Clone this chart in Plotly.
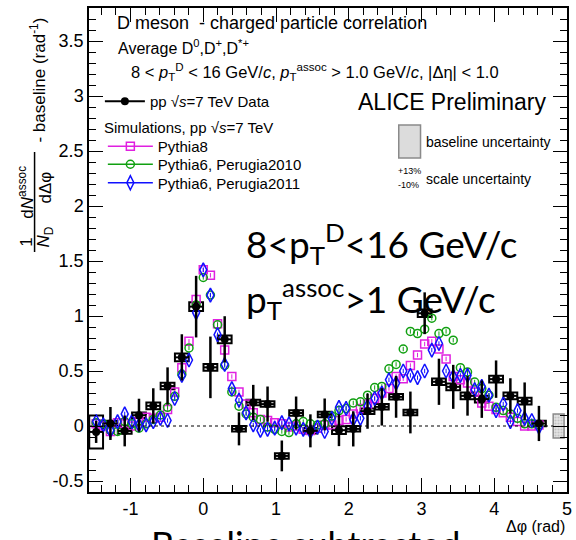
import numpy as np
import plotly.graph_objects as go

PI = np.pi
# ---- data: ALICE pp 7 TeV data (32 bins of pi/16) ----
data_y = [-0.054, 0.023, -0.045, 0.098, 0.183, 0.363, 0.624, 1.085, 0.533, 0.788,
          -0.026, 0.214, 0.199, -0.272, 0.118, -0.044, 0.105, -0.038, -0.026, 0.135,
          0.174, 0.265, 0.123, 1.025, 0.402, 0.356, 0.274, 0.244, 0.426, 0.274,
          0.226, 0.023]
data_stat = [0.10, 0.15, 0.14, 0.15, 0.16, 0.17, 0.21, 0.28, 0.28, 0.21,
             0.15, 0.16, 0.16, 0.14, 0.15, 0.15, 0.145, 0.145, 0.16, 0.16,
             0.17, 0.19, 0.19, 0.19, 0.21, 0.20, 0.18, 0.17, 0.17, 0.16,
             0.17, 0.16]
data_sys = [0.15, 0.025, 0.025, 0.025, 0.03, 0.03, 0.035, 0.04, 0.03, 0.035,
            0.025, 0.025, 0.025, 0.025, 0.025, 0.025, 0.025, 0.035, 0.025, 0.025,
            0.025, 0.025, 0.025, 0.035, 0.03, 0.03, 0.03, 0.03, 0.03, 0.03,
            0.03, 0.025]
data_x = [-PI / 2 + (k + 0.5) * PI / 16 for k in range(len(data_y))]

# ---- simulations (63 points, pi/32 spacing) ----
pythia8 = [0.02, 0.00, -0.05, 0.03, 0.02, 0.00, 0.04, 0.08, 0.07, 0.08,
           0.15, 0.31, 0.53, 0.77, 1.15, 1.42, 1.37, 0.93, 0.69, 0.45,
           0.31, 0.20, 0.12, 0.06, 0.05, 0.03, 0.02, -0.01, 0.00, -0.03,
           -0.04, -0.02, 0.01, 0.01, 0.05, 0.06, 0.11, 0.16, 0.20, 0.25,
           0.30, 0.34, 0.45, 0.43, 0.55, 0.645, 0.745, 0.77, 0.70, 0.61,
           0.45, 0.42, 0.39, 0.31, 0.21, 0.18, 0.15, 0.12, 0.08, 0.04,
           0.00, 0.00, 0.01]
perugia2010 = [0.03, 0.02, -0.04, -0.05, 0.04, 0.02, -0.02, 0.02, 0.06, 0.10,
               0.17, 0.27, 0.47, 0.71, 1.10, 1.35, 1.19, 0.92, 0.55, 0.31,
               0.18, 0.11, 0.08, 0.06, -0.01, -0.03, -0.05, -0.06, 0.02, 0.04,
               0.02, 0.01, 0.02, 0.09, 0.14, 0.16, 0.21, 0.22, 0.28, 0.35,
               0.36, 0.52, 0.56, 0.70, 0.86, 0.84, 0.88, 0.98, 0.84, 0.86,
               0.78, 0.53, 0.49, 0.40, 0.34, 0.28, 0.17, 0.14, 0.11, 0.07,
               0.02, 0.02, 0.01]
perugia2011 = [0.04, 0.01, -0.04, 0.04, 0.11, 0.04, 0.01, 0.01, 0.04, 0.07,
               0.05, 0.25, 0.46, 0.60, 1.03, 1.42, 1.19, 0.83, 0.56, 0.34,
               0.235, 0.12, 0.01, -0.04, -0.03, -0.02, 0.03, 0.02, -0.02, -0.03,
               -0.05, -0.01, -0.05, 0.07, 0.17, 0.16, 0.06, 0.07, 0.18, 0.25,
               0.30, 0.42, 0.39, 0.50, 0.46, 0.44, 0.50, 0.69, 0.75, 0.50,
               0.45, 0.46, 0.46, 0.33, 0.36, 0.28, 0.14, 0.20, 0.04, 0.14,
               0.07, 0.05, -0.01]
sim_x = [-PI / 2 + (j + 1) * PI / 32 for j in range(len(pythia8))]

# baseline uncertainty band (drawn at right edge)
baseline_unc = 0.11
baseline_x = [4.885]

x_ticks = [-1, 0, 1, 2, 3, 4, 5]
y_ticks = [-0.5, 0, 0.5, 1, 1.5, 2, 2.5, 3, 3.5]
y_ticktext = ["-0.5", "0", "0.5", "1", "1.5", "2", "2.5", "3", "3.5"]

X_RANGE = [-PI / 2, 5.0]
Y_RANGE = [-0.6, 3.8]

W, H = 576, 540
L, R, T, B = 89, 4, 8, 48
PW, PH = W - L - R, H - T - B


def px(xpix):
    return (xpix - L) / PW


def py(ypix):
    return (H - B - ypix) / PH


HELV = "Liberation Sans, Arial, sans-serif"
BIG = "Lato, sans-serif"

fig = go.Figure()

sims = [
    ("Pythia8", pythia8, "#e020e0", "square-open", 8, "legend2", 130),
    ("Pythia6, Perugia2010", perugia2010, "#10a010", "circle-open", 8, "legend3", 148),
    ("Pythia6, Perugia2011", perugia2011, "#1010ff", "diamond-tall-open", 10, "legend4", 166.5),
]
for name, ys, col, sym, sz, lg, ltop in sims:
    fig.add_trace(go.Scatter(
        x=sim_x, y=ys, mode="markers", showlegend=False,
        marker=dict(symbol=sym, size=sz, color=col, line=dict(width=1.5, color=col)),
        error_y=dict(type="constant", value=0.02, color=col, thickness=1, width=0),
    ))

# systematic boxes for data
fig.add_trace(go.Bar(
    x=data_x, y=[2 * s for s in data_sys], base=[v - s for v, s in zip(data_y, data_sys)],
    width=0.19, showlegend=False,
    marker=dict(color="rgba(0,0,0,0)", line=dict(color="black", width=2)),
))
# baseline uncertainty box
fig.add_trace(go.Bar(
    x=baseline_x, y=[2 * baseline_unc], base=[-baseline_unc], width=0.15,
    showlegend=False,
    marker=dict(color="#dddddd", line=dict(color="#8a8a8a", width=1.5),
                pattern=dict(shape=".", fgcolor="#a0a0a0", bgcolor="#e4e4e4", size=3, solidity=0.4)),
))
fig.add_trace(go.Scatter(
    x=data_x, y=data_y, mode="markers", showlegend=False,
    marker=dict(symbol="circle", size=8, color="black"),
    error_y=dict(type="data", array=data_stat, color="black", thickness=2.5, width=0),
    error_x=dict(type="constant", value=PI / 32, color="black", thickness=2, width=0),
))

# legend entries
fig.add_trace(go.Scatter(
    x=[None], y=[None], mode="lines+markers", name="pp &#8730;<i>s</i>=7 TeV Data",
    line=dict(color="black", width=2), marker=dict(symbol="circle", size=8, color="black"),
    legend="legend",
))
for name, ys, col, sym, sz, lg, ltop in sims:
    fig.add_trace(go.Scatter(
        x=[None], y=[None], mode="lines+markers", name=name,
        line=dict(color=col, width=1.5),
        marker=dict(symbol=sym, size=sz, color=col, line=dict(width=1.5, color=col)),
        legend=lg,
    ))

axis_common = dict(
    showline=True, linecolor="black", linewidth=1.5, mirror="allticks",
    ticks="inside", ticklen=14, tickwidth=1.2, tickcolor="black",
    showgrid=False, zeroline=False,
    tickfont=dict(family=HELV, size=18, color="black"),
)
fig.update_xaxes(range=X_RANGE, tickvals=x_ticks, ticktext=[str(v) for v in x_ticks],
                 minor=dict(dtick=0.2, ticks="inside", ticklen=7, tickcolor="black", tickwidth=1.2),
                 **axis_common)
fig.update_yaxes(range=Y_RANGE, tickvals=y_ticks, ticktext=y_ticktext,
                 minor=dict(dtick=0.1, ticks="inside", ticklen=7, tickcolor="black", tickwidth=1.2),
                 **axis_common)

shapes = [
    dict(type="line", xref="x", yref="y", x0=X_RANGE[0], x1=4.81, y0=0, y1=0,
         line=dict(color="black", width=1, dash="3px,3px")),
    # legend sample of baseline uncertainty
    dict(type="rect", xref="paper", yref="paper", x0=px(402), x1=px(424), y0=py(158), y1=py(125),
         fillcolor="#dcdcdc", line=dict(color="#8a8a8a", width=1.5)),
    # fraction bar of y title
    dict(type="line", xref="paper", yref="paper", x0=px(34), x1=px(34), y0=py(252), y1=py(152),
         line=dict(color="black", width=1.5)),
]

ann = []


def add_text(text, x, y, size, family=HELV, xanchor="left", yanchor="middle", angle=0):
    ann.append(dict(text=text, x=px(x), y=py(y), xref="paper", yref="paper",
                    xanchor=xanchor, yanchor=yanchor, showarrow=False, textangle=angle,
                    font=dict(family=family, size=size, color="black")))


add_text("D meson  - charged particle correlation", 115, 23, 18)
add_text("Average D<sup>0</sup>,D<sup>+</sup>,D<sup>*+</sup>", 116, 47, 16)
add_text("8 < <i>p</i><sub>T</sub><sup>D</sup> < 16 GeV/<i>c</i>, <i>p</i><sub>T</sub><sup>assoc</sup> "
         "> 1.0 GeV/<i>c</i>, |&#916;&#951;| < 1.0", 129, 72, 16.5)
add_text("ALICE Preliminary", 553, 102, 23, xanchor="right")
add_text("Simulations, pp &#8730;<i>s</i>=7 TeV", 102, 127, 15)
add_text("baseline uncertainty", 427, 142, 14)
add_text("+13%", 399, 171, 9)
add_text("-10%", 399, 185, 9)
add_text("scale uncertainty", 428, 179, 14)
# big overlay text
add_text("8<p<sub>T</sub><sup>D</sup><16 GeV/c", 246, 243, 37, family=BIG)
add_text("p<sub>T</sub><sup>assoc</sup>>1 GeV/c", 246, 298, 37, family=BIG)
add_text("Baseline subtracted", 150, 544, 36, family=BIG)
# x axis title
add_text("&#916;&#966; (rad)", 572, 526, 16, xanchor="right")
# y axis title pieces
add_text("1", 25, 242, 17, xanchor="center", angle=-90)
add_text("d<i>N</i><sup>assoc</sup>", 25, 192, 17, xanchor="center", angle=-90)
add_text("<i>N</i><sub>D</sub>", 45, 237, 17, xanchor="center", angle=-90)
add_text("d&#916;&#966;", 45, 187, 17, xanchor="center", angle=-90)
add_text("- baseline (rad<sup>-1</sup>)", 37, 80, 17, xanchor="center", angle=-90)

leg_font = dict(family=HELV, size=15, color="black")
layout_legends = dict(
    legend=dict(x=px(100), y=py(85), xanchor="left", yanchor="top",
                bgcolor="rgba(0,0,0,0)", font=leg_font, itemwidth=40),
)
for name, ys, col, sym, sz, lg, ltop in sims:
    layout_legends[lg] = dict(x=px(103), y=py(ltop), xanchor="left", yanchor="top",
                              bgcolor="rgba(0,0,0,0)", font=leg_font, itemwidth=45)

fig.update_layout(
    width=W, height=H, margin=dict(l=L, r=R, t=T, b=B),
    paper_bgcolor="white", plot_bgcolor="white",
    barmode="overlay", annotations=ann, shapes=shapes,
    **layout_legends,
)

fig.write_html("out.html")
